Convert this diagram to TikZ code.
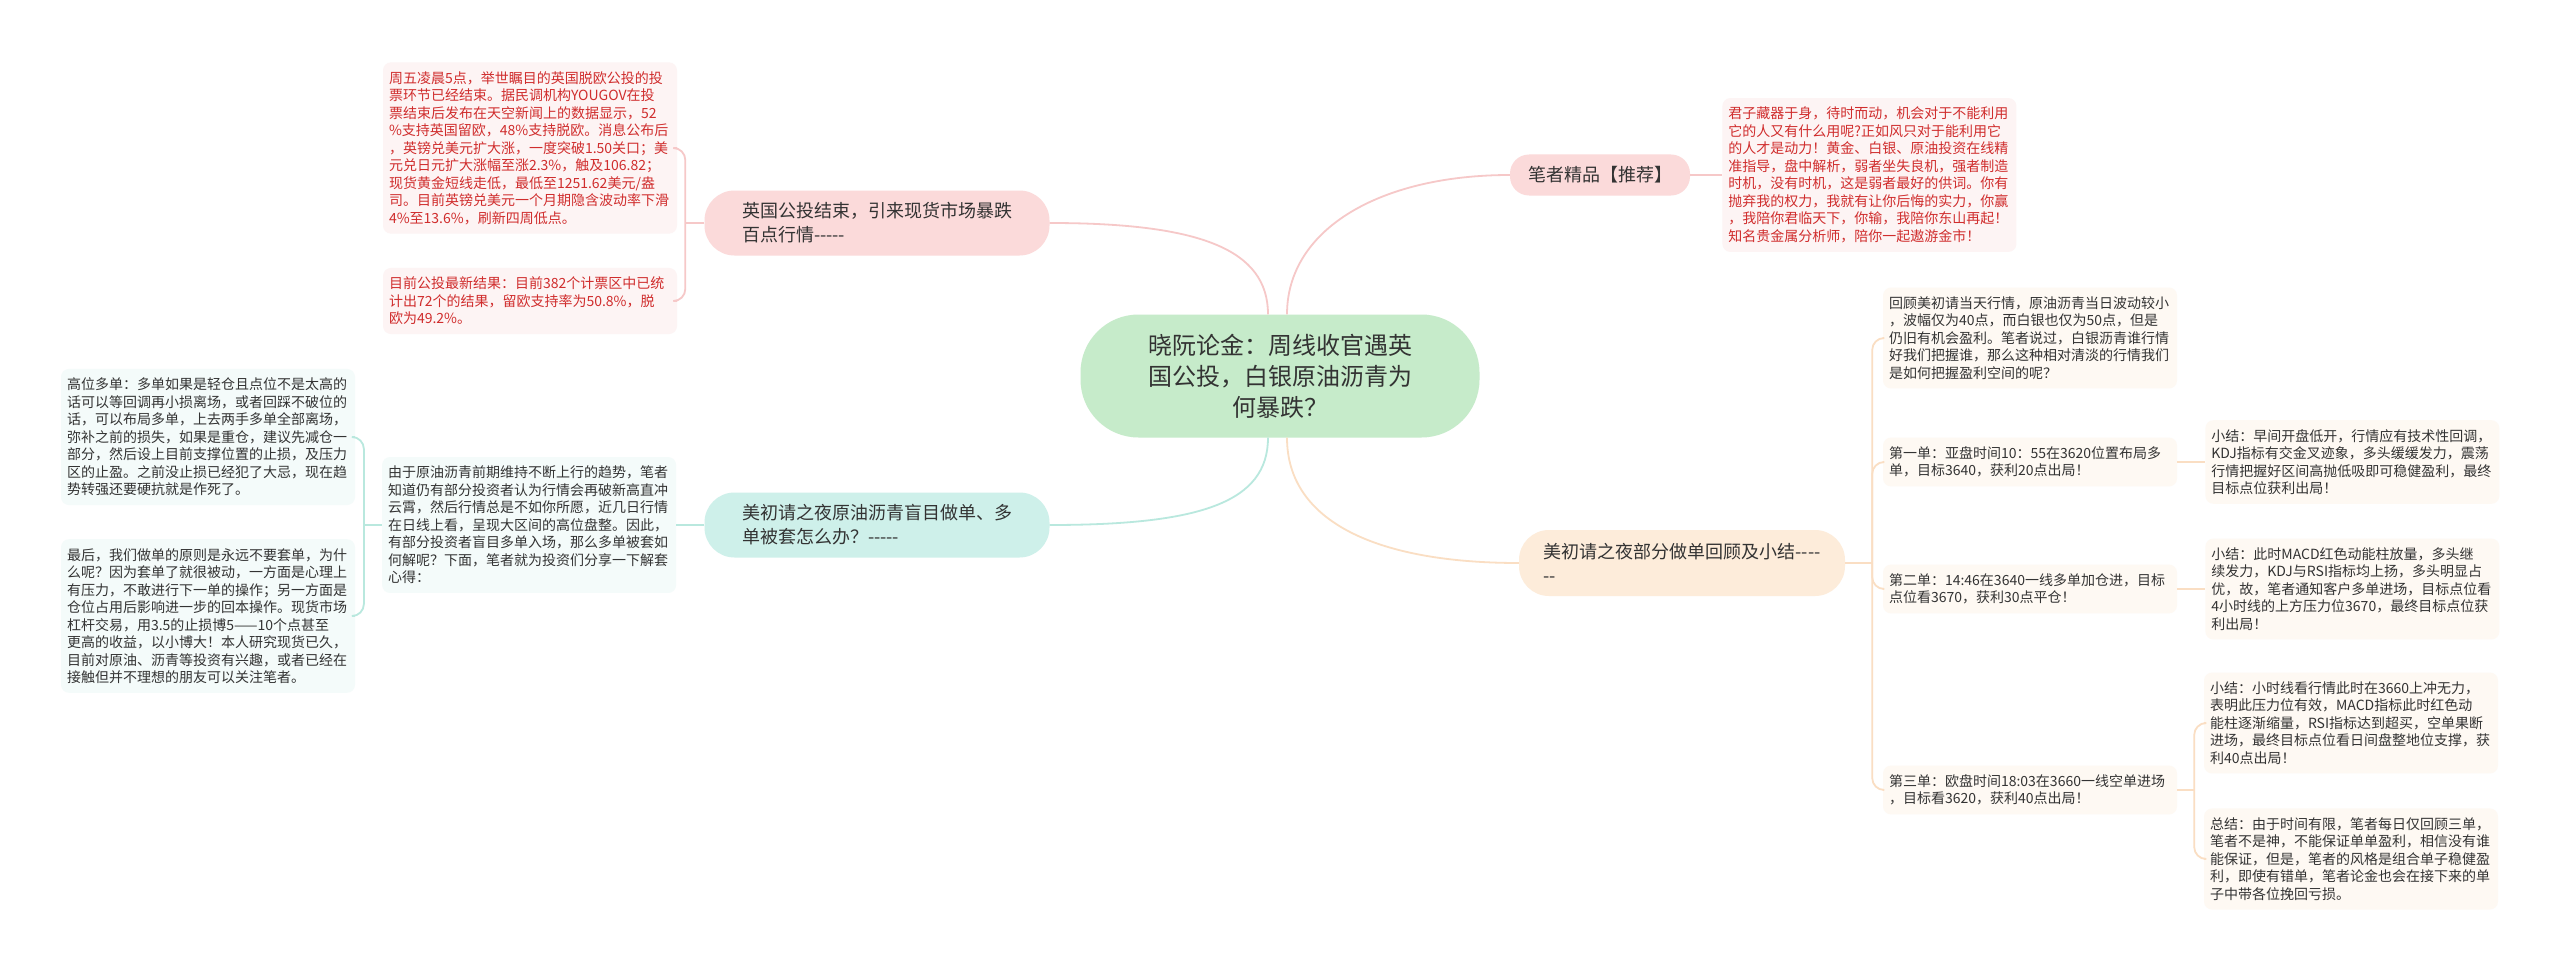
\documentclass[tikz,border=0pt]{standalone}
\usepackage{fontspec}
\newfontfamily\cjk{Noto Sans CJK SC}
\usetikzlibrary{positioning}

\definecolor{txt}{RGB}{51,51,51}
\definecolor{redtxt}{RGB}{208,45,45}
\definecolor{ctrfill}{RGB}{198,235,202}
\definecolor{pinkfill}{RGB}{251,218,218}
\definecolor{cyanfill}{RGB}{206,240,234}
\definecolor{peachfill}{RGB}{253,236,218}
\definecolor{pinkleaf}{RGB}{253,244,244}
\definecolor{cyanleaf}{RGB}{244,251,250}
\definecolor{peachleaf}{RGB}{254,249,243}
\definecolor{pinkline}{RGB}{246,200,200}
\definecolor{cyanline}{RGB}{185,232,222}
\definecolor{peachline}{RGB}{250,222,195}

\begin{document}
\begin{tikzpicture}[
  x=1pt, y=-1pt,
  root/.style={rectangle, rounded corners=58pt, fill=ctrfill, minimum width=399pt, minimum height=123pt, align=center, text=txt, font=\cjk\fontsize{24}{31}\selectfont},
  topic/.style={rectangle, rounded corners=30pt, minimum height=65pt, align=left, text=txt, font=\cjk\fontsize{18}{24}\selectfont},
  leaf/.style={rectangle, rounded corners=8pt, text width=282pt, inner xsep=6pt, inner ysep=9pt, align=left, text=txt, font=\cjk\fontsize{14}{17.5}\selectfont},
  pleaf/.style={leaf, fill=pinkleaf, text=redtxt},
  cleaf/.style={leaf, fill=cyanleaf},
  oleaf/.style={leaf, fill=peachleaf},
  pline/.style={draw=pinkline, line width=1.8pt},
  cline/.style={draw=cyanline, line width=1.8pt},
  oline/.style={draw=peachline, line width=1.8pt}
]
\fill[white] (0,0) rectangle (2560,971);
\useasboundingbox (0,0) rectangle (2560,971);

% centre and main topics
\node[root] (ctr) at (1280,376) {晓阮论金：周线收官遇英\\国公投，白银原油沥青为\\何暴跌？};
\node[topic, fill=pinkfill, minimum width=345pt] (uk) at (877,223) {英国公投结束，引来现货市场暴跌\\百点行情-----};
\node[topic, fill=cyanfill, minimum width=345pt] (mc) at (877,525) {美初请之夜原油沥青盲目做单、多\\单被套怎么办？-----};
\node[topic, fill=pinkfill, minimum width=180pt, minimum height=41pt, rounded corners=19pt] (bz) at (1600,175) {笔者精品【推荐】};
\node[topic, fill=peachfill, minimum width=326pt, minimum height=66pt] (mr) at (1682,563) {美初请之夜部分做单回顾及小结----\\--};

% left side
\node[pleaf] (l1) at (530,148) {周五凌晨5点，举世瞩目的英国脱欧公投的投\\票环节已经结束。据民调机构YOUGOV在投\\票结束后发布在天空新闻上的数据显示，52\\\%支持英国留欧，48\%支持脱欧。消息公布后\\，英镑兑美元扩大涨，一度突破1.50关口；美\\元兑日元扩大涨幅至涨2.3\%，触及106.82；\\现货黄金短线走低，最低至1251.62美元/盎\\司。目前英镑兑美元一个月期隐含波动率下滑\\4\%至13.6\%，刷新四周低点。};
\node[pleaf] (l2) at (530,301) {目前公投最新结果：目前382个计票区中已统\\计出72个的结果，留欧支持率为50.8\%，脱\\欧为49.2\%。};
\node[cleaf, left=28pt of mc] (m1) {由于原油沥青前期维持不断上行的趋势，笔者\\知道仍有部分投资者认为行情会再破新高直冲\\云霄，然后行情总是不如你所愿，近几日行情\\在日线上看，呈现大区间的高位盘整。因此，\\有部分投资者盲目多单入场，那么多单被套如\\何解呢？下面，笔者就为投资们分享一下解套\\心得：};
\node[cleaf] (h1) at (208,437) {高位多单：多单如果是轻仓且点位不是太高的\\话可以等回调再小损离场，或者回踩不破位的\\话，可以布局多单，上去两手多单全部离场，\\弥补之前的损失，如果是重仓，建议先减仓一\\部分，然后设上目前支撑位置的止损，及压力\\区的止盈。之前没止损已经犯了大忌，现在趋\\势转强还要硬抗就是作死了。};
\node[cleaf] (h2) at (208,616) {最后，我们做单的原则是永远不要套单，为什\\么呢？因为套单了就很被动，一方面是心理上\\有压力，不敢进行下一单的操作；另一方面是\\仓位占用后影响进一步的回本操作。现货市场\\杠杆交易，用3.5的止损博5——10个点甚至\\更高的收益，以小博大！本人研究现货已久，\\目前对原油、沥青等投资有兴趣，或者已经在\\接触但并不理想的朋友可以关注笔者。};

% right side
\node[pleaf, right=32pt of bz] (rt) {君子藏器于身，待时而动，机会对于不能利用\\它的人又有什么用呢?正如风只对于能利用它\\的人才是动力！黄金、白银、原油投资在线精\\准指导，盘中解析，弱者坐失良机，强者制造\\时机，没有时机，这是弱者最好的供词。你有\\抛弃我的权力，我就有让你后悔的实力，你赢\\，我陪你君临天下，你输，我陪你东山再起！\\知名贵金属分析师，陪你一起遨游金市！};
\node[oleaf] (ra) at (2030,338) {回顾美初请当天行情，原油沥青当日波动较小\\，波幅仅为40点，而白银也仅为50点，但是\\仍旧有机会盈利。笔者说过，白银沥青谁行情\\好我们把握谁，那么这种相对清淡的行情我们\\是如何把握盈利空间的呢？};
\node[oleaf] (rb) at (2030,462) {第一单：亚盘时间10：55在3620位置布局多\\单，目标3640，获利20点出局！};
\node[oleaf] (rc) at (2030,589) {第二单：14:46在3640一线多单加仓进，目标\\点位看3670，获利30点平仓！};
\node[oleaf] (rd) at (2030,790) {第三单：欧盘时间18:03在3660一线空单进场\\，目标看3620，获利40点出局！};
\node[oleaf, right=28pt of rb] (e1) {小结：早间开盘低开，行情应有技术性回调，\\KDJ指标有交金叉迹象，多头缓缓发力，震荡\\行情把握好区间高抛低吸即可稳健盈利，最终\\目标点位获利出局！};
\node[oleaf, right=28pt of rc] (e2) {小结：此时MACD红色动能柱放量，多头继\\续发力，KDJ与RSI指标均上扬，多头明显占\\优，故，笔者通知客户多单进场，目标点位看\\4小时线的上方压力位3670，最终目标点位获\\利出局！};
\node[oleaf] (e3) at (2351,723) {小结：小时线看行情此时在3660上冲无力，\\表明此压力位有效，MACD指标此时红色动\\能柱逐渐缩量，RSI指标达到超买，空单果断\\进场，最终目标点位看日间盘整地位支撑，获\\利40点出局！};
\node[oleaf] (e4) at (2351,859) {总结：由于时间有限，笔者每日仅回顾三单，\\笔者不是神，不能保证单单盈利，相信没有谁\\能保证，但是，笔者的风格是组合单子稳健盈\\利，即使有错单，笔者论金也会在接下来的单\\子中带各位挽回亏损。};

% centre to topics
\draw[pline] ([xshift=-12pt]ctr.north) .. controls +(0,-65) and +(150,0) .. (uk.east);
\draw[pline] ([xshift=7pt]ctr.north) .. controls +(0,-85) and +(-130,0) .. (bz.west);
\draw[cline] ([xshift=-12pt]ctr.south) .. controls +(0,65) and +(150,0) .. (mc.east);
\draw[oline] ([xshift=7pt]ctr.south) .. controls +(0,85) and +(-140,0) .. (mr.west);

% topics to leaves
\path (uk.west) ++(-19,0) coordinate (ukj);
\draw[pline, rounded corners=12pt] (l1.east) -| (ukj) |- (l2.east);
\draw[pline] (uk.west) -- (ukj);
\draw[cline] (mc.west) -- (m1.east);
\path (m1.west) ++(-18,0) coordinate (m1j);
\draw[cline, rounded corners=12pt] (h1.east) -| (m1j) |- (h2.east);
\draw[cline] (m1.west) -- (m1j);

\draw[pline] (bz.east) -- (rt.west);
\path (mr.east) ++(27,0) coordinate (mrj);
\draw[oline, rounded corners=12pt] (ra.west) -| (mrj) |- (rd.west);
\draw[oline, rounded corners=12pt] (mrj) |- (rb.west);
\draw[oline, rounded corners=12pt] (mrj) |- (rc.west);
\draw[oline] (mr.east) -- (mrj);
\draw[oline] (rb.east) -- (e1.west);
\draw[oline] (rc.east) -- (e2.west);
\path (rd.east) ++(17,0) coordinate (rdj);
\draw[oline, rounded corners=12pt] (e3.west) -| (rdj) |- (e4.west);
\draw[oline] (rd.east) -- (rdj);
\end{tikzpicture}
\end{document}
